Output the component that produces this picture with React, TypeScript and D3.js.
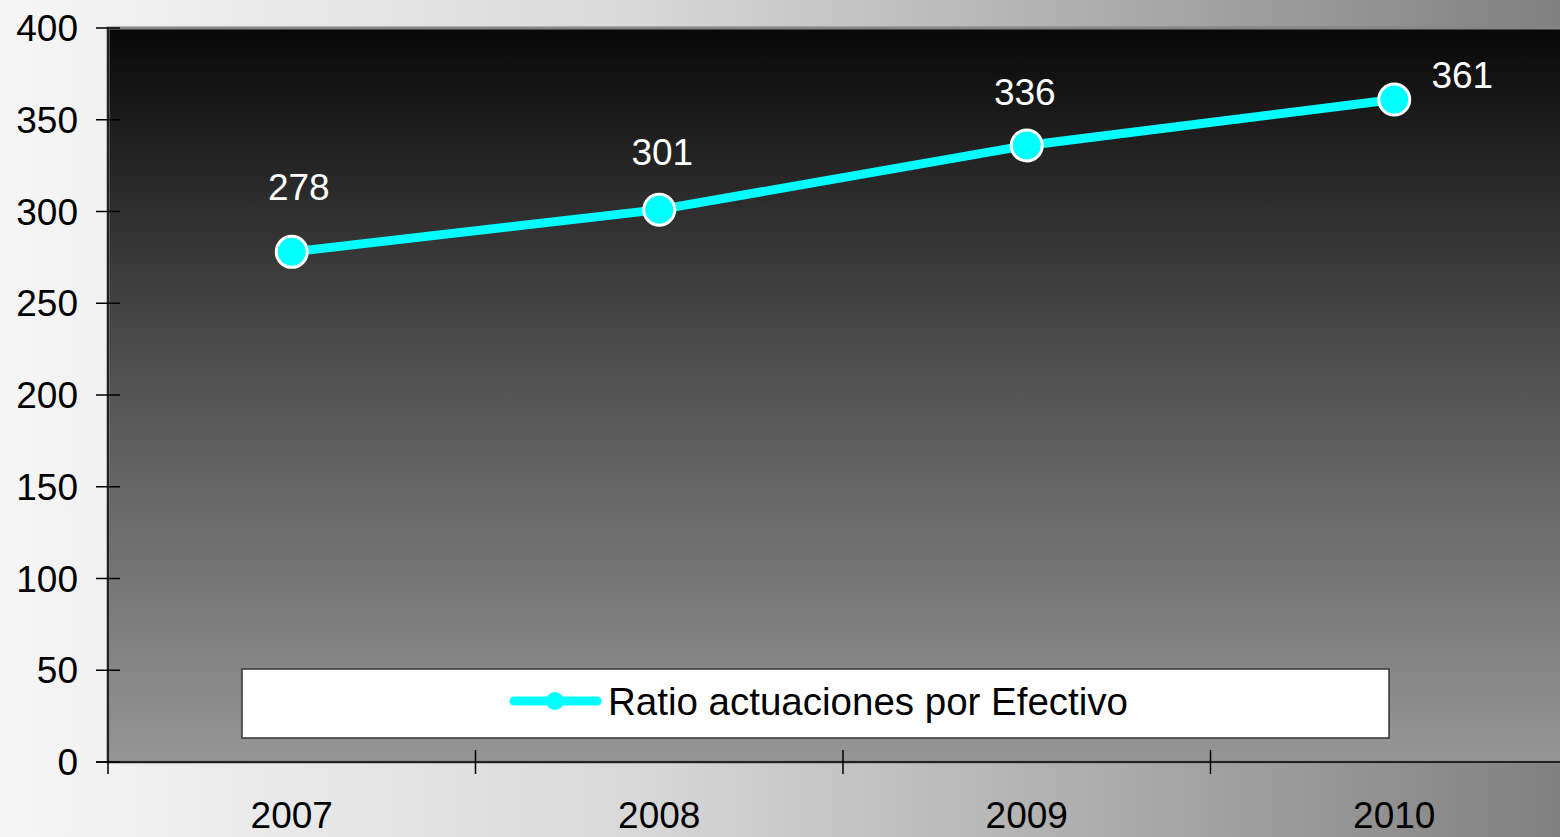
import * as d3 from 'd3';

const years = ['2007', '2008', '2009', '2010'];
const ratioValues = [278, 301, 336, 361];
const yTicks = [0, 50, 100, 150, 200, 250, 300, 350, 400];
const seriesName = 'Ratio actuaciones por Efectivo';

const W = 1560;
const H = 837;
const FONT = '"Liberation Sans", Arial, sans-serif';

// label nudges relative to each point (dx, dy)
const labelNudge: [number, number][] = [
  [7, -52],
  [3, -45],
  [-2, -40],
  [68, -12],
];

const App = () => {
  const left = 108;
  const top = 28;
  const bottom = 762;
  const bandW = 367.5;

  const x = d3
    .scaleBand<string>()
    .domain(years)
    .range([left, left + bandW * years.length]);
  const y = d3.scaleLinear().domain([0, 400]).range([bottom, top]);

  const pts = years.map((yr, i) => [x(yr)! + x.bandwidth() / 2, y(ratioValues[i])] as [number, number]);
  const line = d3.line<[number, number]>()(pts) as string;
  const right = left + bandW * years.length;

  const legX = 242;
  const legY = 669;
  const legW = 1147;
  const legH = 69;

  return (
    <svg
      width={W}
      height={H}
      style={{ position: 'absolute', left: 0, top: 0, display: 'block' }}
      fontFamily={FONT}
    >
      <defs>
        <linearGradient id="outerBg" x1="0" y1="0" x2="1" y2="0">
          <stop offset="0" stopColor="#f6f6f6" />
          <stop offset="0.4" stopColor="#d9d9d9" />
          <stop offset="0.65" stopColor="#b5b5b5" />
          <stop offset="1" stopColor="#808080" />
        </linearGradient>
        <linearGradient id="plotBg" x1="0" y1="0" x2="0" y2="1">
          <stop offset="0" stopColor="#080808" />
          <stop offset="0.5" stopColor="#555555" />
          <stop offset="1" stopColor="#969696" />
        </linearGradient>
      </defs>
      <rect x={0} y={0} width={W} height={H} fill="url(#outerBg)" />

      <rect
        x={left}
        y={top}
        width={right - left}
        height={bottom - top}
        fill="url(#plotBg)"
        stroke="#868686"
        strokeWidth={3}
      />

      {/* y axis */}
      <line x1={left} x2={left} y1={top} y2={bottom + 12} stroke="#000" strokeWidth={1.5} />
      {yTicks.map((t) => (
        <g key={t}>
          <line x1={left - 12} x2={left + 12} y1={y(t)} y2={y(t)} stroke="#000" strokeWidth={1.5} />
          <text x={78} y={y(t) + 13} textAnchor="end" fontSize={37} fill="#000">
            {t}
          </text>
        </g>
      ))}

      {/* x axis */}
      <line x1={left - 12} x2={right} y1={bottom} y2={bottom} stroke="#000" strokeWidth={1.5} />
      {years.map((yr, i) => (
        <g key={yr}>
          {i > 0 && (
            <line x1={x(yr)!} x2={x(yr)!} y1={bottom - 12} y2={bottom + 12} stroke="#000" strokeWidth={1.5} />
          )}
          <text x={x(yr)! + x.bandwidth() / 2} y={828} textAnchor="middle" fontSize={37} fill="#000">
            {yr}
          </text>
        </g>
      ))}

      {/* series */}
      <path d={line} fill="none" stroke="#00ffff" strokeWidth={9} />
      {pts.map(([px, py], i) => (
        <g key={i}>
          <circle cx={px} cy={py} r={15.5} fill="#00ffff" stroke="#fff" strokeWidth={3} />
          <text
            x={px + labelNudge[i][0]}
            y={py + labelNudge[i][1]}
            textAnchor="middle"
            fontSize={37}
            fill="#fff"
          >
            {ratioValues[i]}
          </text>
        </g>
      ))}

      {/* legend */}
      <rect x={legX} y={legY} width={legW} height={legH} fill="#fff" stroke="#333" strokeWidth={1.5} />
      <line x1={514} x2={597} y1={701} y2={701} stroke="#00ffff" strokeWidth={9} strokeLinecap="round" />
      <circle cx={555} cy={701} r={9} fill="#00ffff" />
      <text x={608} y={715} fontSize={38.5} fill="#000">
        {seriesName}
      </text>
    </svg>
  );
};

export default App;
